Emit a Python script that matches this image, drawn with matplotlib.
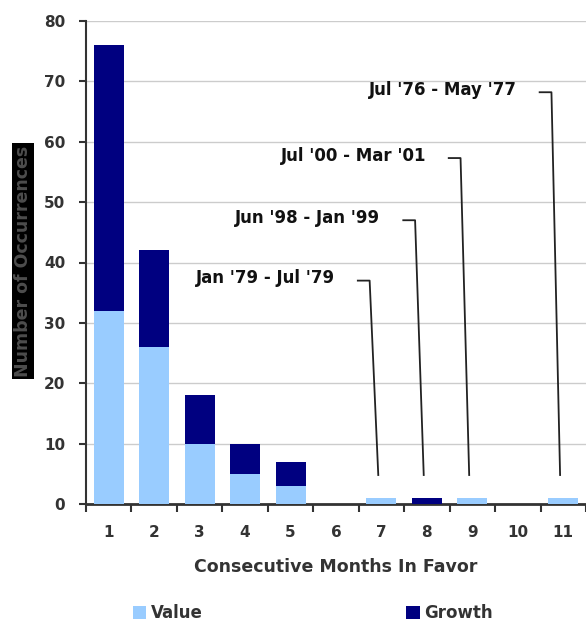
import numpy as np
import matplotlib.pyplot as plt

plt.rcParams['font.family'] = ['DejaVu Sans']

months = [1, 2, 3, 4, 5, 6, 7, 8, 9, 10, 11]
value = [32, 26, 10, 5, 3, 0, 1, 0, 1, 0, 1]
growth = [44, 16, 8, 5, 4, 0, 0, 1, 0, 0, 0]

# periods behind the long streaks
period_months = [7, 8, 9, 11]
period_labels = ["Jan '79 - Jul '79", "Jun '98 - Jan '99",
                 "Jul '00 - Mar '01", "Jul '76 - May '77"]
label_levels = [37, 47, 57.3, 68.2]

light = '#99ccff'
navy = '#000080'
txt = '#333333'

fig = plt.figure(figsize=(5.86, 6.21), dpi=100)
ax = fig.add_axes([86 / 586, 117 / 621, 500 / 586, 483 / 621])

ax.bar(months, value, width=0.66, color=light, label='Value', zorder=3)
ax.bar(months, growth, width=0.66, bottom=value, color=navy, label='Growth', zorder=3)

totals = np.array(value) + np.array(growth)
for m, lab, lvl in zip(period_months, period_labels, label_levels):
    top = totals[m - 1]
    xs = [m - 0.52, m - 0.26, m - 0.07]
    ys = [lvl, lvl, top + 3.8]
    ax.plot(xs, ys, color='#222222', lw=1.3, zorder=4, clip_on=False)
    ax.text(m - 1.02, lvl + 0.4, lab, ha='right', va='center',
            fontsize=12, fontweight='bold', color='#111111')

ax.set_xlim(0.5, 11.5)
ax.set_ylim(0, 80)
ax.set_yticks(range(0, 81, 10))
ax.yaxis.grid(True, color='#cccccc', lw=1)
ax.set_axisbelow(True)

ax.set_xticks(np.arange(0.5, 12, 1))
ax.set_xticklabels([])
ax.set_xticks(months, minor=True)
ax.set_xticklabels([str(m) for m in months], minor=True)
ax.tick_params(axis='x', which='major', direction='out', length=6, width=1.5, color=txt)
ax.tick_params(axis='x', which='minor', length=0, pad=15, labelsize=11, labelcolor=txt)
ax.tick_params(axis='y', direction='out', length=5, width=1.5, color=txt, pad=10,
               labelsize=11, labelcolor=txt)
for lbl in ax.get_yticklabels() + ax.get_xticklabels(minor=True):
    lbl.set_fontweight('bold')

for s in ['top', 'right']:
    ax.spines[s].set_visible(False)
ax.spines['left'].set_color(txt)
ax.spines['left'].set_linewidth(1.5)
ax.spines['bottom'].set_color(txt)
ax.spines['bottom'].set_linewidth(2)

ax.set_xlabel('Consecutive Months In Favor', fontsize=12.5, fontweight='bold',
              color=txt, labelpad=13)

fig.text(23 / 586, 1 - 261 / 621, 'Number of Occurrences', rotation=90,
         ha='center', va='center', fontsize=12.5, fontweight='bold', color='#4d4d4d',
         bbox=dict(facecolor='black', edgecolor='none', pad=1.5))

handles, labels = ax.get_legend_handles_labels()
leg = fig.legend(handles, labels, loc='center', bbox_to_anchor=(313 / 586, 1 - 613 / 621),
                 ncol=2, frameon=False, handlelength=0.8, handleheight=0.8,
                 handletextpad=0.3, columnspacing=12.2,
                 prop={'size': 12, 'weight': 'bold'})
for t in leg.get_texts():
    t.set_color(txt)

fig.savefig('out.png', dpi=100)
